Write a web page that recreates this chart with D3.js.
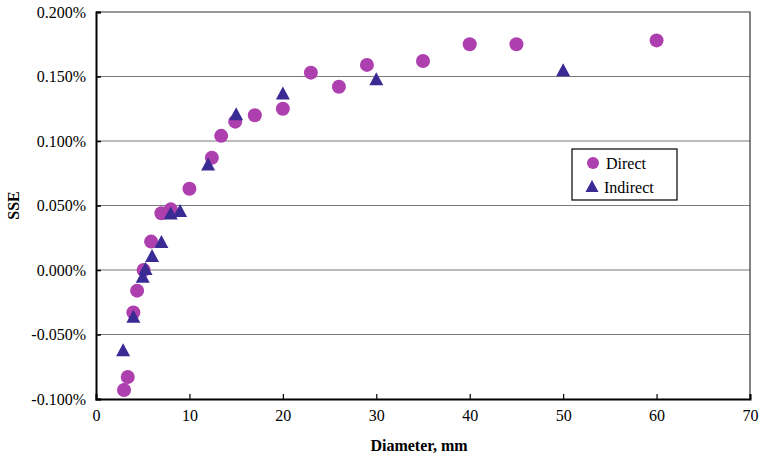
<!DOCTYPE html>
<html>
<head>
<meta charset="utf-8">
<script src="https://cdn.jsdelivr.net/npm/d3@7"></script>
<style>
  body { margin: 0; background: #fff; }
  svg text { font-family: "Liberation Serif", "Times New Roman", serif; }
</style>
</head>
<body>
<div class="viz"></div>
<script>
// values (diameter in mm, SSE in %)
const directDiameter = [3.0, 3.4, 4.0, 4.4, 5.1, 5.9, 7.0, 8.0, 10.0, 12.4, 13.4, 14.9, 17.0, 20.0, 23.0, 26.0, 29.0, 35.0, 40.0, 45.0, 60.0];
const directSSE = [-0.093, -0.083, -0.033, -0.016, 0.000, 0.022, 0.044, 0.047, 0.063, 0.087, 0.104, 0.115, 0.120, 0.125, 0.153, 0.142, 0.159, 0.162, 0.175, 0.175, 0.178];
const indirectDiameter = [2.9, 4.0, 5.0, 5.3, 6.0, 7.0, 8.0, 9.0, 12.0, 15.0, 20.0, 30.0, 50.0];
const indirectSSE = [-0.063, -0.037, -0.006, 0.000, 0.010, 0.021, 0.043, 0.045, 0.081, 0.120, 0.136, 0.147, 0.154];
const xTicks = [0, 10, 20, 30, 40, 50, 60, 70];
const yTicks = [-0.1, -0.05, 0, 0.05, 0.1, 0.15, 0.2];

const directData = directDiameter.map((d, i) => ({ d: d, v: directSSE[i] }));
const indirectData = indirectDiameter.map((d, i) => ({ d: d, v: indirectSSE[i] }));

const dimensions = {
    width: 761,
    height: 458,
    margin: { top: 12, right: 11, bottom: 59, left: 96 },
};
dimensions.boundedWidth = dimensions.width - dimensions.margin.left - dimensions.margin.right;
dimensions.boundedHeight = dimensions.height - dimensions.margin.top - dimensions.margin.bottom;

const serif = "'Liberation Serif', 'Times New Roman', serif";

const wrapper = d3.select(".viz")
    .append("svg")
    .attr("width", dimensions.width)
    .attr("height", dimensions.height);

const bounds = wrapper.append("g")
    .attr("transform", `translate(${dimensions.margin.left},${dimensions.margin.top})`);

const xScale = d3.scaleLinear().domain([0, 70]).range([0, dimensions.boundedWidth]);
const yScale = d3.scaleLinear().domain([-0.1, 0.2]).range([dimensions.boundedHeight, 0]);

// gridlines
bounds.append("g")
    .selectAll("line")
    .data(yTicks.slice(1, -1))
    .join("line")
    .attr("x1", 0)
    .attr("x2", dimensions.boundedWidth)
    .attr("y1", d => yScale(d))
    .attr("y2", d => yScale(d))
    .attr("stroke", "#7a7a7a")
    .attr("stroke-width", 1.2);

// plot border (top / right)
bounds.append("path")
    .attr("d", `M0,0H${dimensions.boundedWidth}V${dimensions.boundedHeight}`)
    .attr("fill", "none")
    .attr("stroke", "#333")
    .attr("stroke-width", 1.2);

// axes
const yAxis = bounds.append("g")
    .call(d3.axisLeft(yScale).tickValues(yTicks).tickSize(-5).tickPadding(10)
        .tickFormat(d => d3.format(".3f")(d).replace("\u2212", "-") + "%"));
yAxis.attr("font-family", null);
yAxis.select(".domain").attr("stroke-width", 2);
yAxis.selectAll(".tick line").attr("stroke-width", 1.5);
yAxis.selectAll("text").attr("fill", "#000")
    .style("font-family", serif).style("font-size", "16px");

const xAxis = bounds.append("g")
    .attr("transform", `translate(0,${dimensions.boundedHeight})`)
    .call(d3.axisBottom(xScale).tickValues(xTicks).tickSize(-5).tickPadding(11));
xAxis.attr("font-family", null);
xAxis.select(".domain").attr("stroke-width", 2);
xAxis.selectAll(".tick line").attr("stroke-width", 1.2);
xAxis.selectAll("text").attr("fill", "#000")
    .style("font-family", serif).style("font-size", "16px");

// markers
const circleColor = "#ad3fae";
const triColor = "#392a94";
const triPath = "M0,-8L7,5L-7,5Z";

bounds.append("g")
    .selectAll("circle")
    .data(directData)
    .join("circle")
    .attr("cx", d => xScale(d.d))
    .attr("cy", d => yScale(d.v))
    .attr("r", 7)
    .attr("fill", circleColor);

bounds.append("g")
    .selectAll("path")
    .data(indirectData)
    .join("path")
    .attr("d", triPath)
    .attr("transform", d => `translate(${xScale(d.d)},${yScale(d.v)})`)
    .attr("fill", triColor);

// axis titles
wrapper.append("text")
    .attr("x", dimensions.margin.left + dimensions.boundedWidth / 2 - 4)
    .attr("y", 451)
    .attr("text-anchor", "middle")
    .style("font-size", "16px")
    .attr("font-weight", "bold")
    .text("Diameter, mm");

wrapper.append("text")
    .attr("transform", `translate(19,${dimensions.margin.top + dimensions.boundedHeight / 2}) rotate(-90)`)
    .attr("text-anchor", "middle")
    .style("font-size", "16px")
    .attr("font-weight", "bold")
    .text("SSE");

// legend
const legend = wrapper.append("g").attr("transform", "translate(572,149)");
legend.append("rect")
    .attr("width", 105)
    .attr("height", 51)
    .attr("fill", "#fff")
    .attr("stroke", "#000")
    .attr("stroke-width", 1.2);
legend.append("circle").attr("cx", 21).attr("cy", 14).attr("r", 6).attr("fill", circleColor);
legend.append("text").attr("x", 34).attr("y", 20).style("font-size", "16px").text("Direct");
legend.append("path").attr("d", "M0,-7L6.5,5L-6.5,5Z")
    .attr("transform", "translate(20,38)").attr("fill", triColor);
legend.append("text").attr("x", 32).attr("y", 44).style("font-size", "16px").text("Indirect");
</script>
</body>
</html>
